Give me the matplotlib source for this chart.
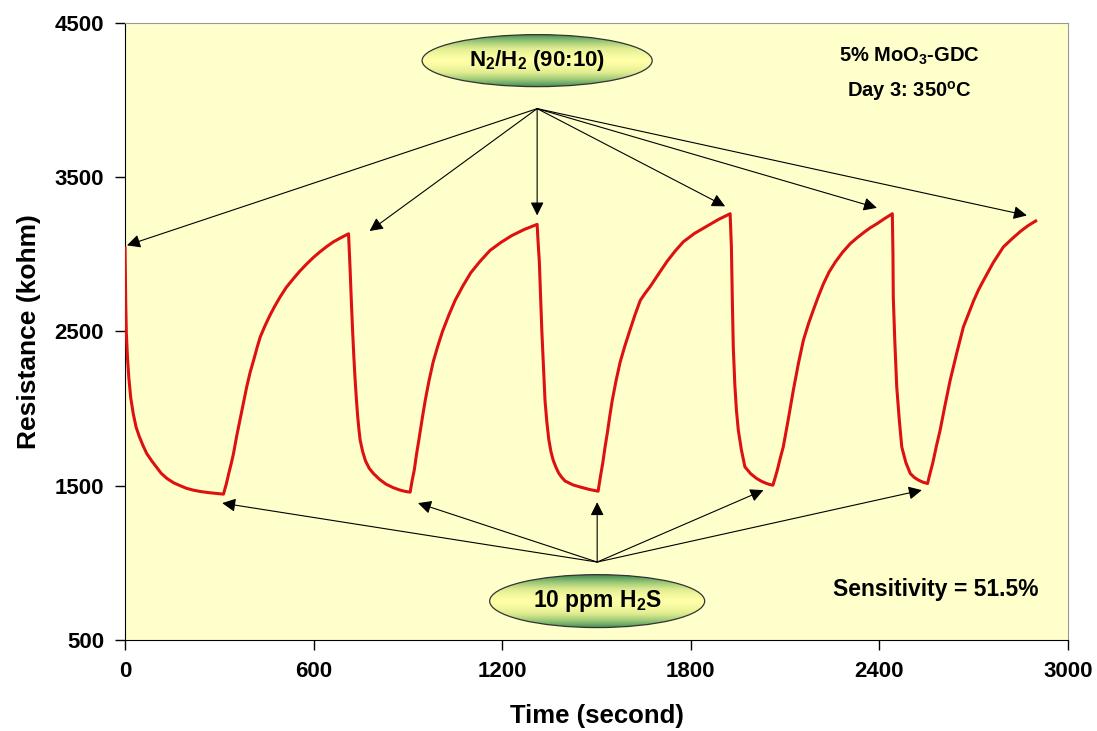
import numpy as np
import matplotlib.pyplot as plt
from matplotlib.patches import Ellipse
from matplotlib.colors import LinearSegmentedColormap

plt.rcParams['font.family'] = ['Liberation Sans', 'DejaVu Sans']
plt.rcParams['font.weight'] = 'bold'
plt.rcParams['mathtext.fontset'] = 'custom'
plt.rcParams['mathtext.rm'] = 'Liberation Sans:bold'
plt.rcParams['mathtext.it'] = 'Liberation Sans:bold'
plt.rcParams['mathtext.bf'] = 'Liberation Sans:bold'
plt.rcParams['mathtext.default'] = 'rm'

# sensor response (time in s, resistance in kohm)
time_s = [0, 2, 4, 8, 12, 18, 26, 35, 45, 57, 69, 85, 100, 115, 133, 155, 175, 195, 217, 240, 265, 290, 313,
          322, 330, 338, 345, 355, 365, 376, 387, 398, 410, 420, 430, 445, 460, 476, 493, 513, 535, 556, 578,
          600, 620, 642, 663, 688, 711,
          716, 720, 724, 728, 732, 736, 740, 744, 748, 756, 765, 777, 790, 810, 830, 852, 875, 891, 907,
          913, 920, 927, 935, 945, 955, 967, 980, 995, 1010, 1030, 1050, 1075, 1100, 1130, 1161, 1195, 1230,
          1270, 1311,
          1314, 1318, 1322, 1326, 1331, 1336, 1342, 1348, 1355, 1362, 1371, 1380, 1390, 1400, 1425, 1450,
          1478, 1505,
          1512, 1520, 1527, 1535, 1542, 1550, 1562, 1575, 1590, 1605, 1622, 1639, 1655, 1670, 1700, 1725,
          1750, 1776, 1812, 1850, 1888, 1925,
          1927, 1929, 1932, 1935, 1940, 1945, 1951, 1961, 1972, 1990, 2009, 2025, 2040, 2050, 2061,
          2068, 2075, 2084, 2094, 2102, 2110, 2118, 2126, 2142, 2158, 2174, 2190, 2206, 2222, 2240, 2260,
          2283, 2307, 2328, 2350, 2370, 2392, 2416, 2441,
          2442, 2443, 2444, 2449, 2455, 2463, 2471, 2484, 2498, 2511, 2525, 2539, 2553,
          2561, 2570, 2581, 2593, 2609, 2625, 2646, 2667, 2684, 2700, 2715, 2731, 2762, 2794, 2822, 2850,
          2873, 2897]
resistance = [3040, 2700, 2490, 2320, 2200, 2070, 1967, 1880, 1820, 1760, 1708, 1660, 1620, 1580, 1547,
              1518, 1500, 1483, 1471, 1462, 1455, 1450, 1445,
              1510, 1580, 1645, 1708, 1820, 1920, 2030, 2140, 2235, 2320, 2395, 2463, 2535, 2600, 2662, 2722,
              2785, 2840, 2890, 2937, 2980, 3015, 3050, 3080, 3108, 3132,
              2900, 2690, 2500, 2330, 2183, 2060, 1950, 1865, 1794, 1720, 1660, 1612, 1579, 1540, 1510,
              1488, 1471, 1463, 1458,
              1530, 1600, 1700, 1800, 1930, 2053, 2180, 2300, 2405, 2500, 2605, 2700, 2795, 2880, 2955,
              3024, 3075, 3120, 3160, 3193,
              3080, 2950, 2720, 2500, 2270, 2053, 1910, 1800, 1720, 1665, 1618, 1580, 1552, 1530, 1505,
              1490, 1475, 1464,
              1555, 1650, 1750, 1850, 1950, 2053, 2180, 2300, 2405, 2500, 2605, 2700, 2748, 2788, 2880,
              2955, 3020, 3080, 3135, 3180, 3225, 3262,
              3150, 3046, 2700, 2398, 2150, 1990, 1859, 1730, 1622, 1578, 1547, 1528, 1515, 1508, 1503,
              1550, 1600, 1675, 1751, 1840, 1930, 2025, 2118, 2290, 2442, 2548, 2640, 2728, 2809, 2885,
              2950, 3013, 3068, 3105, 3140, 3170, 3197, 3230, 3262,
              3150, 3000, 2722, 2430, 2140, 1930, 1751, 1650, 1579, 1553, 1535, 1522, 1514,
              1580, 1650, 1755, 1859, 2025, 2183, 2360, 2528, 2617, 2700, 2768, 2830, 2945, 3046, 3100,
              3150, 3185, 3215]

# arrow targets
gas_on_t = [6, 778, 1311, 1909, 2392, 2869]
gas_on_r = [3057, 3150, 3251, 3310, 3300, 3251]
h2s_t = [309, 932, 1502, 2031, 2535]
h2s_r = [1387, 1387, 1393, 1471, 1471]

xticks = [0, 600, 1200, 1800, 2400, 3000]
yticks = [500, 1500, 2500, 3500, 4500]

fig = plt.figure(figsize=(10.97, 7.31), dpi=100)
ax = fig.add_axes([0.114, 0.1245, 0.8596, 0.8445])
ax.set_facecolor('#FFFFCC')

ax.plot(time_s, resistance, color='#DD1111', lw=2.2, zorder=3)

cmap = LinearSegmentedColormap.from_list('yg', ['#FFFFA8', '#E0EC90', '#94C474', '#3E8A52'])


def label_oval(cx, cy, w, h, text, size):
    ell = Ellipse((cx, cy), w, h, facecolor='none', edgecolor='#333333', lw=0.9, zorder=5)
    ax.add_patch(ell)
    v = np.abs(np.linspace(-1, 1, 200))[:, None] * np.ones((1, 10))
    im = ax.imshow(v ** 1.4, cmap=cmap, extent=[cx - w / 2, cx + w / 2, cy - h / 2, cy + h / 2],
                   aspect='auto', zorder=4, origin='lower')
    im.set_clip_path(ell)
    ax.text(cx, cy, text, ha='center', va='center', fontsize=size, fontweight='bold', zorder=6)


src_top = (1311, 3943)
for t, r in zip(gas_on_t, gas_on_r):
    ax.annotate('', xy=(t, r), xytext=src_top,
                arrowprops=dict(arrowstyle='-|>', color='black', lw=0.8,
                                mutation_scale=20, shrinkA=0, shrinkB=0), zorder=4)
src_bot = (1502, 1005)
for t, r in zip(h2s_t, h2s_r):
    ax.annotate('', xy=(t, r), xytext=src_bot,
                arrowprops=dict(arrowstyle='-|>', color='black', lw=0.8,
                                mutation_scale=20, shrinkA=0, shrinkB=0), zorder=4)

label_oval(1311, 4254, 732, 337, 'N$_2$/H$_2$ (90:10)', 16)
label_oval(1502, 752, 684, 343, '10 ppm H$_2$S', 16.5)

ax.text(2495, 4280, '5% MoO$_3$-GDC', ha='center', va='center', fontsize=14.5, fontweight='bold')
ax.text(2495, 4055, 'Day 3: 350$^o$C', ha='center', va='center', fontsize=14.5, fontweight='bold')
ax.text(2580, 825, 'Sensitivity = 51.5%', ha='center', va='center', fontsize=16.5, fontweight='bold')

ax.set_xlim(0, 3000)
ax.set_ylim(500, 4500)
ax.set_xticks(xticks)
ax.set_yticks(yticks)
ax.tick_params(direction='out', length=7, width=1, labelsize=16, pad=8)
for lab in ax.get_xticklabels() + ax.get_yticklabels():
    lab.set_fontweight('bold')
ax.spines['left'].set_color('black')
ax.spines['bottom'].set_color('black')
ax.spines['top'].set_color('#999999')
ax.spines['right'].set_color('#999999')

ax.set_xlabel('Time (second)', fontsize=18.5, fontweight='bold', labelpad=16)
ax.set_ylabel('Resistance (kohm)', fontsize=19, fontweight='bold', labelpad=10)

plt.savefig('out.png', dpi=100)
